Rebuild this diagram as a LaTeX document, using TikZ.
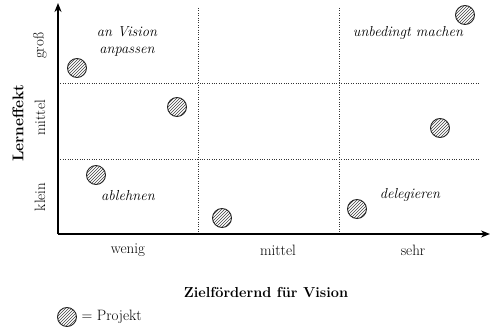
\documentclass[tikz,border=0pt]{standalone}
\usetikzlibrary{arrows.meta,patterns}
\begin{document}
\begin{tikzpicture}[x=1pt,y=-1pt,
  axis/.style={line width=2.4pt,-{Stealth[length=9pt,width=7pt]}},
  grid/.style={line width=0.7pt,dash pattern=on 1pt off 1.4pt,black!80},
  proj/.style={circle,draw=black!85,line width=0.9pt,minimum size=19pt,inner sep=0pt,pattern=north east lines,pattern color=black!75},
  lbl/.style={font=\fontsize{14.5}{17}\selectfont\itshape,align=center},
  tick/.style={font=\fontsize{15}{17}\selectfont},
  ttl/.style={font=\fontsize{14.5}{17}\selectfont\bfseries}]
\useasboundingbox (0,0) rectangle (493,329);
% grid
\coordinate (h1a) at (58,83); \coordinate (h1b) at (480,83);
\coordinate (h2a) at (58,159); \coordinate (h2b) at (480,159);
\coordinate (v1a) at (198,8); \coordinate (v1b) at (198,234);
\coordinate (v2a) at (339,8); \coordinate (v2b) at (339,234);
\draw[grid] (h1a) -- (h1b);
\draw[grid] (h2a) -- (h2b);
\draw[grid] (v1a) -- (v1b);
\draw[grid] (v2a) -- (v2b);
% axes
\coordinate (O) at (58,234);
\coordinate (Y) at (58,3);
\coordinate (X) at (490,234);
\draw[axis] (O) -- (Y);
\draw[axis] (O) -- (X);
% projects
\node[proj] (p1) at (77,68) {};
\node[proj] (p2) at (177,107) {};
\node[proj] (p3) at (96,175) {};
\node[proj] (p4) at (222,218) {};
\node[proj] (p5) at (357,209) {};
\node[proj] (p6) at (440,128) {};
\node[proj] (p7) at (465,15) {};
% quadrant labels
\node[lbl] (q1) at (127,41) {an Vision\\anpassen};
\node[lbl] (q2) at (408,33) {unbedingt machen};
\node[lbl] (q3) at (128,196) {ablehnen};
\node[lbl] (q4) at (410,195) {delegieren};
% y ticks
\node[tick,rotate=90] (yg) at (40,46) {groß};
\node[tick,rotate=90] (ym) at (40,118) {mittel};
\node[tick,rotate=90] (yk) at (40,197) {klein};
\node[ttl,rotate=90,font=\fontsize{15.5}{17}\selectfont\bfseries] (yt) at (18,123) {Lerneffekt};
% x ticks
\node[tick] (xw) at (128,250) {wenig};
\node[tick] (xm) at (278,250) {mittel};
\node[tick] (xs) at (413,250) {sehr};
\node[ttl] (xt) at (266,292) {Zielfördernd für Vision};
% legend
\node[proj] (lg) at (67,317) {};
\node[tick,anchor=west] (lt) at (78,317) {= Projekt};
\end{tikzpicture}
\end{document}
